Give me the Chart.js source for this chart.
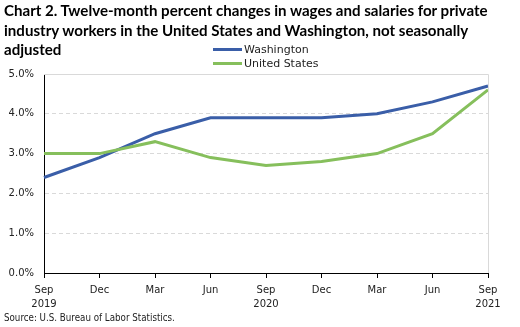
<!DOCTYPE html>
<html>
<head>
<meta charset="utf-8">
<script src="https://cdn.jsdelivr.net/npm/chart.js@4.4.1/dist/chart.umd.min.js"></script>
<style>
  html, body { margin: 0; padding: 0; background: #fff; }
  #wrap { position: relative; width: 520px; height: 327px; overflow: hidden; }
  #chart { position: absolute; left: 0; top: 0; }
  #title {
    position: absolute; left: 4px; top: 1px;
    font-family: Lato, sans-serif; font-weight: bold; font-size: 15.1px;
    line-height: 19.5px; color: #000; white-space: nowrap;
  }
  .legend {
    position: absolute; left: 213px;
    font-family: "DejaVu Sans", sans-serif; font-size: 11px; color: #222;
    height: 14px; line-height: 14px; white-space: nowrap;
  }
  .legend i {
    display: inline-block; width: 29px; height: 3px; vertical-align: middle;
    margin-right: 2px; position: relative; top: -1px;
  }
  #source {
    position: absolute; left: 4px; top: 312px;
    font-family: "DejaVu Sans Condensed", "DejaVu Sans", sans-serif; font-size: 9.7px; color: #222;
    white-space: nowrap;
  }
</style>
</head>
<body>
<div id="wrap">
  <canvas id="chart" width="520" height="327"></canvas>
  <div id="title">Chart 2. Twelve-month percent changes in wages and salaries for private<br>industry workers in the United States and Washington, not seasonally<br>adjusted</div>
  <div class="legend" style="top:43px"><i style="background:#3A5EA8"></i>Washington</div>
  <div class="legend" style="top:57px"><i style="background:#86BF5C"></i>United States</div>
  <div id="source">Source: U.S. Bureau of Labor Statistics.</div>
</div>
<script>
// Quarterly reference periods, Sep 2019 – Sep 2021
const categories = [
  ['Sep', '2019'], 'Dec', 'Mar', 'Jun', ['Sep', '2020'], 'Dec', 'Mar', 'Jun', ['Sep', '2021']
];
// Twelve-month percent change in wages and salaries
const washington = [2.4, 2.9, 3.5, 3.9, 3.9, 3.9, 4.0, 4.3, 4.7];
const unitedStates = [3.0, 3.0, 3.3, 2.9, 2.7, 2.8, 3.0, 3.5, 4.6];
const yTicks = { min: 0, max: 5, step: 1 };

const WA_COLOR = '#3A5EA8';
const US_COLOR = '#86BF5C';

// Solid top gridline and light right edge of the plot area
const frame = {
  id: 'frame',
  afterDatasetsDraw(chart) {
    const { ctx, chartArea: a } = chart;
    ctx.save();
    ctx.strokeStyle = '#d9d9d9';
    ctx.lineWidth = 1;
    ctx.beginPath();
    ctx.moveTo(a.left, Math.round(a.top) + 0.5);
    ctx.lineTo(a.right + 0.5, Math.round(a.top) + 0.5);
    ctx.lineTo(a.right + 0.5, a.bottom);
    ctx.stroke();
    ctx.restore();
  }
};

new Chart(document.getElementById('chart'), {
  type: 'line',
  data: {
    labels: categories,
    datasets: [
      { label: 'United States', data: unitedStates, borderColor: US_COLOR, borderWidth: 3,
        pointRadius: 0, tension: 0, fill: false },
      { label: 'Washington', data: washington, borderColor: WA_COLOR, borderWidth: 3,
        pointRadius: 0, tension: 0, fill: false }
    ]
  },
  options: {
    responsive: false,
    animation: false,
    devicePixelRatio: 1,
    layout: { padding: { top: 74, right: 32, left: 0, bottom: 0 } },
    plugins: { legend: { display: false }, tooltip: { enabled: false } },
    scales: {
      x: {
        offset: false,
        grid: { drawOnChartArea: false, drawTicks: true, tickLength: 5, tickColor: '#000' },
        border: { color: '#000', width: 1 },
        ticks: {
          maxRotation: 0, autoSkip: false, padding: 5, color: '#222',
          font: { family: 'DejaVu Sans', size: 10, lineHeight: 1.4 }
        },
        afterFit(s) { s.height = 54; }
      },
      y: {
        min: yTicks.min, max: yTicks.max,
        grid: { color: '#d9d9d9', drawTicks: false },
        border: { color: '#000', width: 1, dash: [4, 3] },
        ticks: {
          stepSize: yTicks.step, padding: 10, color: '#222',
          font: { family: 'DejaVu Sans', size: 10 },
          callback: v => v.toFixed(1) + '%'
        },
        afterFit(s) { s.width = 44; }
      }
    }
  },
  plugins: [frame]
});
</script>
</body>
</html>
